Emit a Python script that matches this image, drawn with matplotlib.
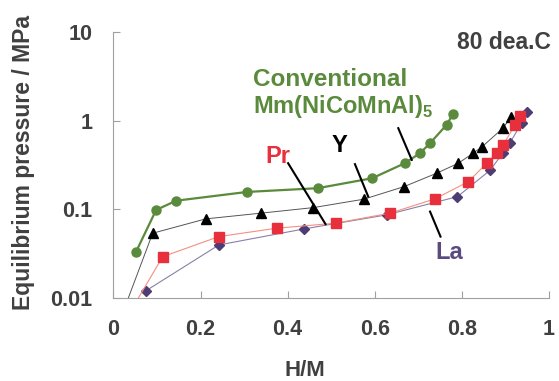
import matplotlib
matplotlib.use("Agg")
import matplotlib.pyplot as plt

plt.rcParams['font.family'] = ['Liberation Sans', 'DejaVu Sans']
plt.rcParams['font.weight'] = 'bold'
plt.rcParams['mathtext.fontset'] = 'custom'
plt.rcParams['mathtext.rm'] = 'Liberation Sans:bold'
plt.rcParams['mathtext.bf'] = 'Liberation Sans:bold'

# conventional Mm(NiCoMnAl)5
conv_x = [0.052, 0.098, 0.144, 0.307, 0.469, 0.594, 0.669, 0.704, 0.727, 0.765, 0.780]
conv_p = [0.0333, 0.0984, 0.125, 0.157, 0.173, 0.224, 0.331, 0.43, 0.557, 0.897, 1.19]

# Y
y_x = [0.025, 0.090, 0.212, 0.338, 0.459, 0.575, 0.667, 0.742, 0.792, 0.826, 0.847, 0.894, 0.913]
y_p = [0.0076, 0.0537, 0.078, 0.0904, 0.1045, 0.130, 0.180, 0.255, 0.331, 0.43, 0.51, 0.82, 1.10]

# Pr
pr_x = [0.045, 0.113, 0.242, 0.375, 0.510, 0.635, 0.738, 0.815, 0.857, 0.880, 0.895, 0.922, 0.933]
pr_p = [0.0079, 0.0292, 0.0492, 0.0612, 0.0697, 0.0904, 0.131, 0.205, 0.331, 0.43, 0.533, 0.897, 1.14]

# La
la_x = [0.074, 0.242, 0.437, 0.627, 0.790, 0.865, 0.894, 0.910, 0.937, 0.949]
la_p = [0.012, 0.0396, 0.060, 0.0865, 0.139, 0.276, 0.43, 0.557, 0.937, 1.26]

green = '#5a8a3c'
red = '#e8303c'
purple = '#4e3d74'
txt = '#404040'
gray = '#a0a0a0'

fig = plt.figure(figsize=(5.59, 3.81), dpi=100)
ax = fig.add_axes([0.203, 0.218, 0.779, 0.698])

ax.plot(y_x, y_p, color='#555555', lw=0.7, marker='^', ms=7.5, mfc='black', mec='black', zorder=3)
ax.plot(la_x, la_p, color='#8a80a8', lw=0.8, marker='D', ms=5, mfc=purple, mec=purple, zorder=3)
ax.plot(pr_x, pr_p, color='#f4907f', lw=0.8, marker='s', ms=6.5, mfc=red, mec=red, zorder=4)
ax.plot(conv_x, conv_p, color=green, lw=1.6, marker='o', ms=6.5, mfc=green, mec=green, zorder=5)

ax.set_yscale('log')
ax.set_xlim(0, 1)
ax.set_ylim(0.01, 10)
ax.set_xticks([0, 0.2, 0.4, 0.6, 0.8, 1])
ax.set_xticklabels(['0', '0.2', '0.4', '0.6', '0.8', '1'])
ax.set_yticks([0.01, 0.1, 1, 10])
ax.set_yticklabels(['0.01', '0.1', '1', '10'])
ax.minorticks_off()

for s in ['top', 'right']:
    ax.spines[s].set_visible(False)
for s in ['left', 'bottom']:
    ax.spines[s].set_color(gray)
    ax.spines[s].set_linewidth(0.8)
ax.tick_params(axis='both', direction='in', length=5, width=0.8, color=gray,
               labelsize=15.5, labelcolor=txt)
ax.tick_params(axis='y', pad=15)
ax.tick_params(axis='x', pad=15)

ax.set_ylabel('Equilibrium pressure / MPa', fontsize=16.5, color=txt, fontweight='bold')
ax.set_xlabel('H/M', fontsize=16, color=txt, fontweight='bold')
ax.yaxis.set_label_coords(-0.18, 0.508)
ax.xaxis.set_label_coords(0.44, -0.235)

# annotations
ax.text(0.788, 6.41, '80 dea.C', fontsize=16.5, color=txt, fontweight='bold',
        ha='left', va='baseline', clip_on=False)
ax.text(0.320, 2.43, 'Conventional', fontsize=17.5, color=green, fontweight='bold',
        ha='left', va='baseline')
ax.text(0.320, 1.234, r'Mm(NiCoMnAl)$_5$', fontsize=17, color=green, fontweight='bold',
        ha='left', va='baseline')
ax.text(0.378, 0.393, 'Pr', fontsize=17, color=red, fontweight='bold', ha='center', va='center')
ax.text(0.519, 0.52, 'Y', fontsize=17, color='black', fontweight='bold', ha='center', va='center')
ax.text(0.770, 0.0322, 'La', fontsize=17, color='#5a4a80', fontweight='bold', ha='center', va='center')

# pointer lines
ax.plot([0.654, 0.685], [0.822, 0.361], color='black', lw=1.5, zorder=6)
ax.plot([0.401, 0.487], [0.331, 0.068], color='black', lw=1.5, zorder=6)
ax.plot([0.5545, 0.585], [0.323, 0.139], color='black', lw=1.5, zorder=6)
ax.plot([0.727, 0.751], [0.0942, 0.0492], color='black', lw=1.5, zorder=6)

fig.savefig('out.png', dpi=100)
